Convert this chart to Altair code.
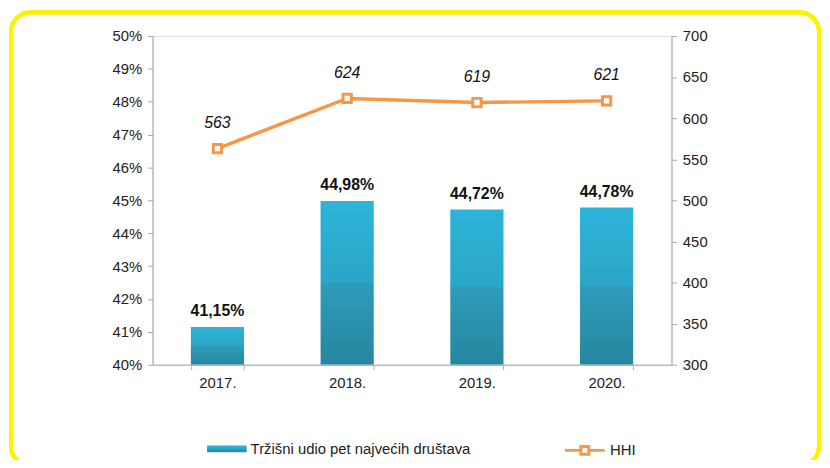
import altair as alt
import pandas as pd

years = ["2017.", "2018.", "2019.", "2020."]
share = [41.15, 44.98, 44.72, 44.78]
share_labels = ["41,15%", "44,98%", "44,72%", "44,78%"]
hhi = [563, 624, 619, 621]
left_ticks = [40, 41, 42, 43, 44, 45, 46, 47, 48, 49, 50]
right_ticks = [300, 350, 400, 450, 500, 550, 600, 650, 700]

bar_name = "Tržišni udio pet najvećih društava"
line_name = "HHI"

df = pd.DataFrame({
    "year": years, "share": share, "share_label": share_labels,
    "hhi": hhi, "s1": bar_name, "s2": line_name,
})

FONT = "Liberation Sans"
ORANGE = "#F79646"
AXIS_GRAY = "#A6A6A6"

xenc = alt.X("year:N", sort=years, title=None,
             scale=alt.Scale(paddingInner=0.59, paddingOuter=0.295),
             axis=alt.Axis(labelAngle=0, tickBand="extent", domainColor=AXIS_GRAY,
                           tickColor=AXIS_GRAY, tickSize=5, labelPadding=6,
                           labelFontSize=15, labelColor="#222222", labelFont=FONT))

grad = alt.Gradient(gradient="linear", x1=0, x2=0, y1=0, y2=1, stops=[
    alt.GradientStop(color="#2DB4D8", offset=0),
    alt.GradientStop(color="#2AA6C7", offset=0.5),
    alt.GradientStop(color="#2E9CBA", offset=0.5),
    alt.GradientStop(color="#27869F", offset=1),
])

yleft = alt.Y("share:Q", title=None,
              scale=alt.Scale(domain=[40, 50], nice=False, zero=False),
              axis=alt.Axis(values=left_ticks, tickCount=len(left_ticks),
                            labelExpr="datum.value + '%'",
                            labelOverlap=False, grid=False, domainColor=AXIS_GRAY,
                            tickColor=AXIS_GRAY, tickSize=5, labelPadding=6,
                            labelFontSize=15, labelColor="#222222", labelFont=FONT))

bars = alt.Chart(df).mark_bar(fill=grad, clip=True).encode(
    x=xenc,
    y=yleft,
    y2=alt.datum(40),
    stroke=alt.Stroke("s1:N", scale=alt.Scale(range=["#2AA6C7"]),
                      legend=alt.Legend(title=None, orient="none", legendX=55, legendY=397,
                                        symbolType="M-1,-0.17H1V0.17H-1Z", symbolSize=1600,
                                        symbolFillColor="#2AA6C7", symbolStrokeWidth=0,
                                        labelFontSize=15, labelFont=FONT, labelColor="#222222",
                                        labelOffset=4, labelLimit=400, padding=0)),
    strokeWidth=alt.value(0),
)

bar_text = alt.Chart(df).mark_text(fontSize=16, fontWeight="bold", font=FONT,
                                   baseline="bottom", dy=-8, color="#111111").encode(
    x=alt.X("year:N", sort=years),
    y=yleft,
    text="share_label:N",
)

left = alt.layer(bars, bar_text)

yright = alt.Y("hhi:Q", title=None,
               scale=alt.Scale(domain=[300, 700], nice=False, zero=False),
               axis=alt.Axis(orient="right", values=right_ticks, tickCount=len(right_ticks),
                             grid=False, labelOverlap=False, domainColor=AXIS_GRAY,
                             tickColor=AXIS_GRAY, tickSize=5, labelPadding=6,
                             labelFontSize=15, labelColor="#222222", labelFont=FONT))

line = alt.Chart(df).mark_line(strokeWidth=3.5).encode(
    x=alt.X("year:N", sort=years),
    y=yright,
    stroke=alt.Stroke("s2:N", scale=alt.Scale(range=[ORANGE]),
                      legend=alt.Legend(title=None, orient="none", legendX=415, legendY=397,
                                        symbolType="M-1,0H-0.2M0.2,0H1M-0.2,-0.2H0.2V0.2H-0.2Z",
                                        symbolSize=1600, symbolFillColor="white",
                                        symbolStrokeWidth=3, labelFontSize=15,
                                        labelFont=FONT, labelColor="#222222",
                                        labelOffset=4, labelLimit=200, padding=0)),
)

points = alt.Chart(df).mark_point(shape="square", filled=True, fill="white",
                                  stroke=ORANGE, strokeWidth=3, size=70, opacity=1).encode(
    x=alt.X("year:N", sort=years),
    y=yright,
)

line_text = alt.Chart(df).mark_text(fontSize=16, fontStyle="italic", font=FONT,
                                    baseline="middle", dy=-26, color="#111111").encode(
    x=alt.X("year:N", sort=years),
    y=yright,
    text="hhi:Q",
)

right = alt.layer(line, points, line_text)

frame = alt.Chart(df).mark_rect(fill=None, stroke="#FFF200", strokeWidth=4,
                                cornerRadius=20).encode(
    x=alt.value(-143), x2=alt.value(673), y=alt.value(-24), y2=alt.value(434),
)

chart = alt.layer(frame, left, right).resolve_scale(
    y="independent", stroke="independent"
).resolve_legend(stroke="independent").properties(
    width=524, height=332,
    autosize=alt.AutoSizeParams(type="none"),
    padding={"left": 146, "top": 26, "right": 152, "bottom": 94},
).configure_view(stroke=None).configure(background="white")

chart.save("out.html", embed_options={"renderer": "svg", "actions": False})
